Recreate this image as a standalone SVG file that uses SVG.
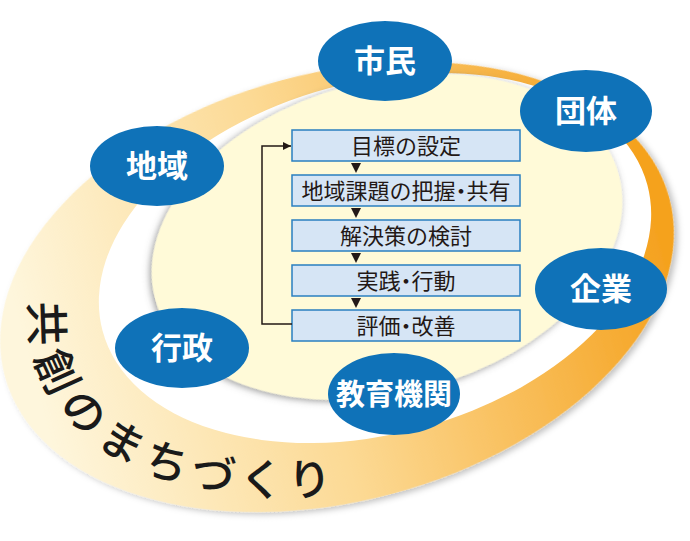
<svg xmlns="http://www.w3.org/2000/svg" width="690" height="541" viewBox="0 0 690 541">
  <defs>
    <linearGradient id="ringGrad" gradientUnits="userSpaceOnUse" x1="20" y1="0" x2="660" y2="0">
      <stop offset="0" stop-color="#fef6dc"/>
      <stop offset="0.45" stop-color="#fcd993"/>
      <stop offset="1" stop-color="#f5a21f"/>
    </linearGradient>
    <filter id="ringShadow" x="-10%" y="-10%" width="120%" height="120%">
      <feDropShadow dx="3" dy="3" stdDeviation="3" flood-color="#000" flood-opacity="0.25"/>
    </filter>
    <filter id="creamShadow" x="-10%" y="-10%" width="120%" height="120%">
      <feDropShadow dx="-2" dy="1" stdDeviation="3.5" flood-color="#555" flood-opacity="0.6"/>
    </filter>
    <marker id="arrowHead" viewBox="0 0 10 10" refX="10" refY="5" markerWidth="8" markerHeight="8" markerUnits="userSpaceOnUse" orient="auto">
      <path d="M0,0 L10,5 L0,10 z" fill="#231815"/>
    </marker>
    <path id="ringTextPath" d="M50.9,301.5 A313,195 -15 0 0 550.9,394.7"/>
  </defs>
  <style>
    .node ellipse { fill: #0f72b8; }
    .node text { fill: #ffffff; font-family: "Noto Sans CJK JP", "Noto Sans", sans-serif; font-size: 31px; font-weight: 700; text-anchor: middle; }
    .step rect { fill: #d6e5f5; stroke: #2a7fc0; stroke-width: 1.5; }
    .step text { fill: #231815; font-family: "Noto Sans CJK JP", "Noto Sans", sans-serif; font-size: 22px; text-anchor: middle; }
    .dot { font-feature-settings: "palt"; }
    .tri { fill: #231815; }
    .conn { fill: none; stroke: #231815; stroke-width: 1.5; }
    .ringText { fill: #1a1a1a; font-family: "Noto Sans CJK JP", "Noto Sans", sans-serif; font-size: 44px; font-weight: 500; letter-spacing: 4px; }
  </style>

  <!-- background ring -->
  <g id="ring">
    <ellipse cx="337" cy="287" rx="344" ry="214" transform="rotate(-15 337 287)" fill="url(#ringGrad)" filter="url(#ringShadow)"/>
    <ellipse cx="375" cy="258" rx="282" ry="176" transform="rotate(-15 375 258)" fill="#ffffff"/>
    <ellipse cx="387" cy="237" rx="240" ry="156" transform="rotate(-15 387 237)" fill="#fffad8" filter="url(#creamShadow)"/>
    <text class="ringText" dominant-baseline="central"><textPath href="#ringTextPath">共創のまちづくり</textPath></text>
  </g>

  <!-- flow steps -->
  <g id="step1" class="step">
    <rect x="292" y="130" width="228" height="31"/>
    <text x="406" y="154">目標の設定</text>
  </g>
  <g id="step2" class="step">
    <rect x="292" y="175" width="228" height="31"/>
    <text x="406" y="199">地域課題の把握<tspan class="dot">・</tspan>共有</text>
  </g>
  <g id="step3" class="step">
    <rect x="292" y="220" width="228" height="31"/>
    <text x="406" y="244">解決策の検討</text>
  </g>
  <g id="step4" class="step">
    <rect x="292" y="265" width="228" height="31"/>
    <text x="406" y="289">実践<tspan class="dot">・</tspan>行動</text>
  </g>
  <g id="step5" class="step">
    <rect x="292" y="310" width="228" height="31"/>
    <text x="406" y="334">評価<tspan class="dot">・</tspan>改善</text>
  </g>

  <g id="connectors">
    <polygon class="tri" points="351,163 361,163 356,173"/>
    <polygon class="tri" points="351,208 361,208 356,218"/>
    <polygon class="tri" points="351,253 361,253 356,263"/>
    <polygon class="tri" points="351,298 361,298 356,308"/>
    <path class="conn" d="M292,324 H262 V146 H291" marker-end="url(#arrowHead)"/>
  </g>

  <!-- stakeholder nodes -->
  <g id="shimin" class="node">
    <ellipse cx="385" cy="61" rx="67" ry="40"/>
    <text x="385" y="72">市民</text>
  </g>
  <g id="dantai" class="node">
    <ellipse cx="586" cy="111" rx="66" ry="41"/>
    <text x="586" y="122">団体</text>
  </g>
  <g id="chiiki" class="node">
    <ellipse cx="157" cy="166" rx="67" ry="40"/>
    <text x="157" y="177">地域</text>
  </g>
  <g id="kigyo" class="node">
    <ellipse cx="601" cy="289" rx="66" ry="41"/>
    <text x="601" y="300">企業</text>
  </g>
  <g id="gyosei" class="node">
    <ellipse cx="182" cy="348" rx="67" ry="40"/>
    <text x="182" y="359">行政</text>
  </g>
  <g id="kyoiku" class="node">
    <ellipse cx="394" cy="394" rx="66" ry="41"/>
    <text x="394" y="405" style="font-size:29px">教育機関</text>
  </g>
</svg>
